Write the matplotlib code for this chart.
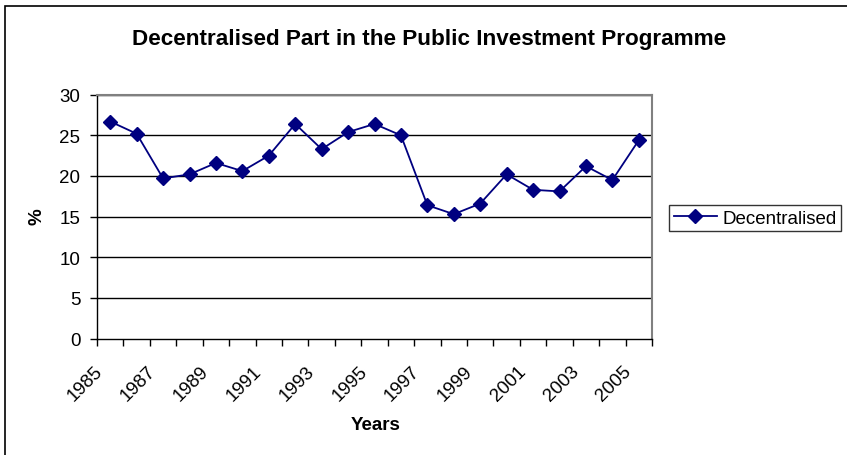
import matplotlib
matplotlib.use("Agg")
import matplotlib.pyplot as plt
import matplotlib.transforms as mtransforms
from matplotlib.patches import Rectangle
import numpy as np

years = list(range(1985, 2006))
values = [26.7, 25.2, 19.7, 20.2, 21.6, 20.6, 22.5, 26.4, 23.3, 25.4,
          26.4, 25.0, 16.4, 15.3, 16.6, 20.2, 18.3, 18.1, 21.2, 19.5, 24.4]
yticks = [0, 5, 10, 15, 20, 25, 30]
title = "Decentralised Part in the Public Investment Programme"
series_name = "Decentralised"

plt.rcParams['font.family'] = ['Liberation Sans', 'DejaVu Sans']

W, H = 847, 456
fig = plt.figure(figsize=(W / 100, H / 100), dpi=100)
ax = fig.add_axes([97 / W, 1 - 339.5 / H, (652 - 97) / W, (339.5 - 95.7) / H])

x = np.arange(len(years))
navy = '#000080'
ax.plot(x, values, color=navy, lw=1.3, marker='D', ms=7, mfc=navy, mec=navy,
        label=series_name)

ax.set_xlim(-0.5, len(years) - 0.5)
ax.set_ylim(0, 30)
ax.set_yticks(yticks)
ax.set_yticklabels([str(v) for v in yticks], fontsize=13.5)
for v in yticks[1:]:
    ax.axhline(v, color='black', lw=1, zorder=0)

ax.tick_params(axis='x', which='major', length=0, pad=0)
ax.tick_params(axis='x', which='minor', length=5, width=1, color='black', direction='out')
ax.tick_params(axis='y', length=5, width=1, direction='out', pad=7)

ax.set_xticks(np.arange(-0.5, len(years), 1.0), minor=True)
ax.set_xticks(x[::2])
ax.set_xticklabels([str(y) for y in years[::2]], fontsize=13.5, rotation=45,
                   ha='right', va='top', rotation_mode='anchor')
offset = mtransforms.ScaledTranslation(-16 / 100, -24 / 100, fig.dpi_scale_trans)
for lbl in ax.get_xticklabels():
    lbl.set_transform(lbl.get_transform() + offset)

for s in ['top', 'right']:
    ax.spines[s].set_color('#808080')
    ax.spines[s].set_linewidth(1.5)
for s in ['left', 'bottom']:
    ax.spines[s].set_color('black')
    ax.spines[s].set_linewidth(1)

fig.text(37 / W, 1 - 217 / H, "%", fontsize=13.5, fontweight='bold',
         ha='center', va='center', rotation=90)
fig.text(376 / W, 1 - 426 / H, "Years", fontsize=13.5, fontweight='bold',
         ha='center', va='center')
fig.text(429 / W, 1 - 40 / H, title, fontsize=16.2, fontweight='bold',
         ha='center', va='center')

leg = fig.legend(loc='center left', bbox_to_anchor=(669 / W, 1 - 219 / H),
                 fontsize=13.5, frameon=True, fancybox=False, borderpad=0.25,
                 handlelength=2.3, handletextpad=0.3, borderaxespad=0)
leg.get_frame().set_edgecolor('black')
leg.get_frame().set_linewidth(1)

fig.patches.append(Rectangle((5 / W, -0.1), 1.2, 1 - 7 / H + 0.1, transform=fig.transFigure,
                             fill=False, edgecolor='black', lw=1.2, clip_on=False))

fig.savefig("out.png", dpi=100)
